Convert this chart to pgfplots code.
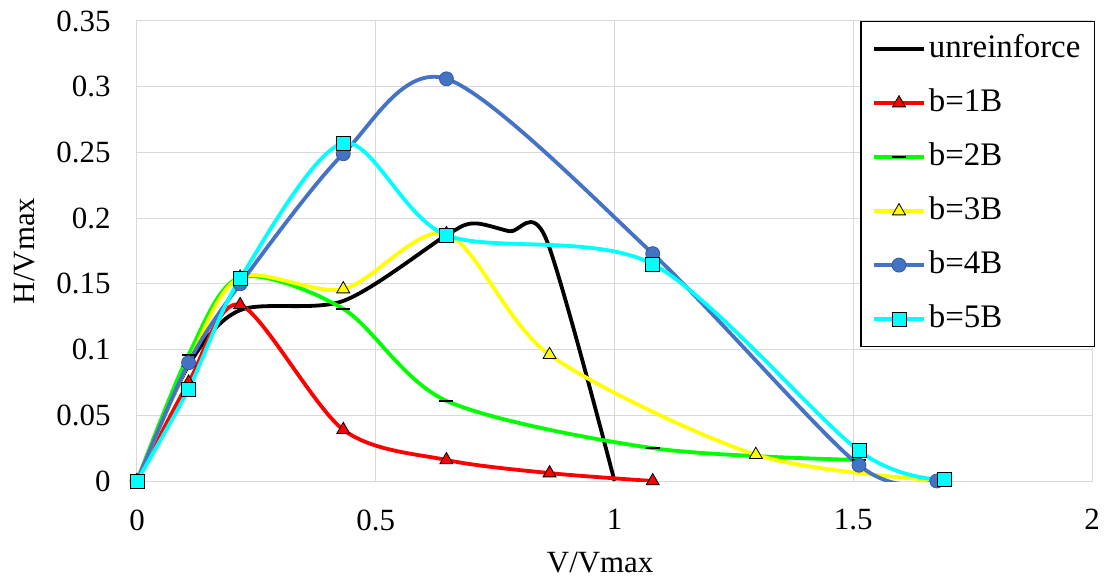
\documentclass[border=0pt]{standalone}
\usepackage{pgfplots}
\pgfplotsset{compat=1.18}
\usepackage{fontspec}
\setmainfont{Liberation Serif}

\definecolor{xlblue}{HTML}{4472C4}
\definecolor{xlgreen}{HTML}{00FF00}
\definecolor{xlyellow}{HTML}{FFFF00}
\definecolor{xlcyan}{HTML}{00FFFF}
\definecolor{gridgray}{HTML}{D9D9D9}

\begin{document}
\begin{tikzpicture}
\begin{axis}[
    scale only axis,
    width=955bp, height=460bp,
    xmin=0, xmax=2, ymin=0, ymax=0.35,
    xtick={0,0.5,1,1.5,2},
    ytick={0,0.05,0.1,0.15,0.2,0.25,0.3,0.35},
    grid=major,
    grid style={draw=gridgray, line width=1bp},
    axis line style={draw=gridgray, line width=1bp},
    major tick length=0pt,
    scaled y ticks=false,
    yticklabel style={/pgf/number format/fixed, /pgf/number format/precision=2, xshift=-23bp},
    xticklabel style={yshift=-25bp},
    /pgf/number format/assume math mode=true,
    tick label style={font=\fontsize{31}{36}\selectfont},
    label style={font=\fontsize{31}{36}\selectfont},
    xlabel={V/Vmax}, ylabel={H/Vmax},
    xlabel style={at={(axis description cs:0.485,-0.178)}, anchor=center},
    ylabel style={at={(axis description cs:-0.1173,0.5)}, anchor=center},
    every axis plot/.append style={smooth, line width=3.8bp},
    legend cell align=left,
    legend style={at={(1,1)}, anchor=north east, xshift=3bp,
        font=\fontsize{33}{38}\selectfont,
        draw=black, line width=1.2bp,
        inner xsep=11bp, inner ysep=10bp,
        row sep=19bp,
        nodes={inner sep=3bp, text height=23bp, text depth=6bp}},
    legend image code/.code={\draw[mark repeat=2,mark phase=2,#1]
        plot coordinates {(0bp,0bp)(25bp,0bp)(50bp,0bp)};},
]
% unreinforce
\addplot[black, no marks] coordinates {
    (0,0) (0.108,0.088) (0.216,0.13) (0.432,0.137) (0.648,0.187) (0.705,0.196)
    (0.78,0.190) (0.857,0.184) (1.0,0)};
\addlegendentry{unreinforce}
% b=1B
\addplot[red, mark=triangle*, mark size=7.5bp,
    mark options={solid, fill=red, draw=black, line width=0.8bp}] coordinates {
    (0,0) (0.108,0.075) (0.216,0.134) (0.432,0.039) (0.648,0.016) (0.864,0.006) (1.08,0.0)};
\addlegendentry{b=1B}
% b=2B
\addplot[xlgreen, mark=-, mark size=7bp,
    mark options={solid, draw=black, line width=2.5bp}] coordinates {
    (0,0) (0.108,0.096) (0.216,0.155) (0.432,0.131) (0.648,0.061) (1.08,0.025) (1.512,0.016)};
\addlegendentry{b=2B}
% b=3B
\addplot[xlyellow, mark=triangle*, mark size=7.5bp,
    mark options={solid, fill=xlyellow, draw=black, line width=0.8bp}] coordinates {
    (0,0) (0.108,0.09) (0.216,0.155) (0.432,0.146) (0.648,0.188) (0.864,0.096) (1.296,0.02) (1.69,0)};
\addlegendentry{b=3B}
% b=4B
\addplot[xlblue, mark=*, mark size=7bp,
    mark options={solid, fill=xlblue, draw=xlblue!80!black, line width=0.8bp}] coordinates {
    (0,0) (0.108,0.09) (0.216,0.15) (0.432,0.249) (0.648,0.306) (1.08,0.173) (1.512,0.012) (1.675,0)};
\addlegendentry{b=4B}
% b=5B
\addplot[xlcyan, mark=square*, mark size=7bp,
    mark options={solid, fill=xlcyan, draw=black, line width=0.8bp}] coordinates {
    (0,0) (0.108,0.07) (0.216,0.154) (0.432,0.257) (0.648,0.187) (1.08,0.165) (1.512,0.023) (1.69,0.001)};
\addlegendentry{b=5B}
\end{axis}
\pgfresetboundingbox
\path (-137bp,-99bp) rectangle (970bp,481bp);
\end{tikzpicture}
\end{document}
